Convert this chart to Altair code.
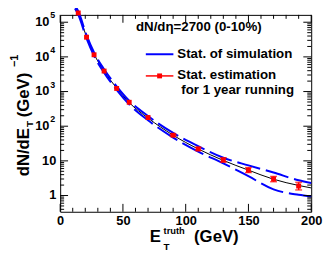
import altair as alt
import pandas as pd

# ---------------- data ----------------
pt_x = [14.4, 21, 27, 35, 45, 55, 70, 90, 110, 130, 150, 170, 190]
pt_y = [1.85e5, 3.7e4, 1.15e4, 3.9e3, 1.23e3, 490, 178, 55, 22, 10.5, 5.4, 3.0, 1.88]

err_x = [90, 110, 130, 150, 170, 190]
err_lo = [52, 20, 9.25, 4.6, 2.5, 1.45]
err_hi = [58, 24.5, 12.3, 6.4, 3.55, 2.4]

fit_x = [11.8, 14.4, 21, 27, 35, 45, 55, 70, 90, 110, 130, 150, 170, 190, 200]
fit_y = [2.8e5, 1.85e5, 3.8e4, 1.2e4, 3.9e3, 1.26e3, 480, 172, 55, 22, 10.3, 5.4, 2.95, 1.95, 1.66]
band_hi = [3.1e5, 2.07e5, 4.25e4, 1.34e4, 4.4e3, 1.42e3, 545, 196, 64, 26.5, 12.3, 7.4, 4.6, 2.75, 2.3]
band_lo = [2.5e5, 1.65e5, 3.4e4, 1.07e4, 3.5e3, 1.12e3, 425, 148, 47, 18.5, 8.5, 3.6, 1.5, 1.05, 0.94]

x_major = [0, 50, 100, 150, 200]
x_minor = [10, 20, 30, 40, 60, 70, 80, 90, 110, 120, 130, 140, 160, 170, 180, 190]
y_major = [1, 10, 100, 1e3, 1e4, 1e5]
y_minor = [m * 10 ** e for e in range(-1, 6) for m in range(2, 10) if 0.34 < m * 10 ** e < 1.63e5]
dec_exp_val = [1e5, 1e4, 1e3, 1e2]
dec_exp_txt = ["5", "4", "3", "2"]
dec_plain_val = [10, 1]
dec_plain_txt = ["10", "1"]

W, H = 255, 200
F = "Liberation Sans"
XD = [0, 200]
YD = [0.34, 1.63e5]

xs = alt.Scale(domain=XD, nice=False, zero=False)
ys = alt.Scale(type="log", domain=YD, nice=False)

x_axis = alt.Axis(values=x_major, ticks=False, domain=False, grid=False, title=None,
                  labelFont=F, labelFontWeight="bold", labelFontSize=13,
                  labelColor="black", labelPadding=3, labelFlush=False)


def X(field="x"):
    return alt.X(f"{field}:Q", scale=xs, axis=x_axis)


def Y(field="y"):
    return alt.Y(f"{field}:Q", scale=ys, axis=None)


one = pd.DataFrame({"a": [0]})


def txt(s, x, y, size, angle=0, align="left", baseline="alphabetic", color="black"):
    return alt.Chart(one).mark_text(
        text=s, fontSize=size, font=F, fontWeight="bold", align=align,
        baseline=baseline, angle=angle, color=color
    ).encode(x=alt.value(x), y=alt.value(y))


fit_df = pd.DataFrame({"x": fit_x, "y": fit_y, "hi": band_hi, "lo": band_lo})
pt_df = pd.DataFrame({"x": pt_x, "y": pt_y})
err_df = pd.DataFrame({"x": err_x, "lo": err_lo, "hi": err_hi})

band_hi_l = alt.Chart(fit_df).mark_line(color="#0000ff", strokeWidth=2, strokeDash=[24, 6],
                                         interpolate="monotone").encode(X(), Y("hi"))
band_lo_l = alt.Chart(fit_df).mark_line(color="#0000ff", strokeWidth=2, strokeDash=[24, 6],
                                         interpolate="monotone").encode(X(), Y("lo"))
fit_l = alt.Chart(fit_df).mark_line(color="black", strokeWidth=1,
                                     interpolate="monotone").encode(X(), Y("y"))
err_rule = alt.Chart(err_df).mark_rule(color="red", strokeWidth=1.5).encode(X(), Y("lo"), y2="hi:Q")
cap_lo = alt.Chart(err_df).mark_tick(color="red", orient="horizontal", size=7, thickness=1.5).encode(X(), Y("lo"))
cap_hi = alt.Chart(err_df).mark_tick(color="red", orient="horizontal", size=7, thickness=1.5).encode(X(), Y("hi"))
pts = alt.Chart(pt_df).mark_square(color="red", size=25, opacity=1).encode(X(), Y("y"))

# inside ticks (ROOT style)
xM = pd.DataFrame({"x": x_major})
xm = pd.DataFrame({"x": x_minor})
yM = pd.DataFrame({"y": y_major})
ym = pd.DataFrame({"y": y_minor})
tk = dict(color="black", strokeWidth=1)
ticks = [
    alt.Chart(xM).mark_rule(**tk).encode(X(), y=alt.value(H), y2=alt.value(H - 8)),
    alt.Chart(xm).mark_rule(**tk).encode(X(), y=alt.value(H), y2=alt.value(H - 4)),
    alt.Chart(xM).mark_rule(**tk).encode(X(), y=alt.value(0), y2=alt.value(8)),
    alt.Chart(xm).mark_rule(**tk).encode(X(), y=alt.value(0), y2=alt.value(4)),
    alt.Chart(yM).mark_rule(**tk).encode(Y(), x=alt.value(0), x2=alt.value(8)),
    alt.Chart(ym).mark_rule(**tk).encode(Y(), x=alt.value(0), x2=alt.value(4)),
    alt.Chart(yM).mark_rule(**tk).encode(Y(), x=alt.value(W), x2=alt.value(W - 8)),
    alt.Chart(ym).mark_rule(**tk).encode(Y(), x=alt.value(W), x2=alt.value(W - 4)),
]

# y tick labels with superscript exponents
ylab_df = pd.DataFrame({"y": dec_exp_val, "e": dec_exp_txt})
yplain_df = pd.DataFrame({"y": dec_plain_val, "t": dec_plain_txt})
ylab_base = alt.Chart(ylab_df).mark_text(text="10", font=F, fontWeight="bold", fontSize=13,
                                         align="right", baseline="middle", color="black").encode(
    Y(), x=alt.value(-11))
ylab_exp = alt.Chart(ylab_df).mark_text(font=F, fontWeight="bold", fontSize=9,
                                        align="left", baseline="middle", dy=-7, color="black").encode(
    Y(), x=alt.value(-10), text="e:N")
ylab_plain = alt.Chart(yplain_df).mark_text(font=F, fontWeight="bold", fontSize=13,
                                            align="right", baseline="middle", color="black").encode(
    Y(), x=alt.value(-4), text="t:N")

# axis titles built from pieces (sub/superscripts)
ytitle = [
    txt("dN/dE", -32, 164, 17, angle=270),
    txt("T", -28, 114, 10, angle=270),
    txt("(GeV)", -32, 104, 17, angle=270),
    txt("\u22121", -43, 53, 11, angle=270),
]
xtitle = [
    txt("E", 91, 231, 17),
    txt("truth", 105, 223, 9.5),
    txt("T", 105, 239, 10),
    txt("(GeV)", 136, 231, 17),
]

# legend
leg_one = alt.Chart(one)
legend = [
    txt("dN/d\u03b7=2700 (0-10%)", 77, 12, 13.5, baseline="middle"),
    leg_one.mark_rule(color="#0000ff", strokeWidth=2).encode(
        x=alt.value(87), x2=alt.value(115), y=alt.value(40)),
    txt("Stat. of simulation", 119, 40, 13.5, baseline="middle"),
    leg_one.mark_rule(color="red", strokeWidth=1.5).encode(
        x=alt.value(87), x2=alt.value(115), y=alt.value(62)),
    leg_one.mark_square(color="red", size=25, opacity=1).encode(
        x=alt.value(101), y=alt.value(62)),
    txt("Stat. estimation", 119, 61.5, 13.5, baseline="middle"),
    txt("for 1 year running", 123, 76, 13.5, baseline="middle"),
]

chart = alt.layer(
    fit_l, band_hi_l, band_lo_l, err_rule, cap_lo, cap_hi, pts,
    *ticks, ylab_base, ylab_exp, ylab_plain, *ytitle, *xtitle, *legend
).properties(
    width=W, height=H, autosize="none",
    padding={"left": 53, "top": 5, "right": 13, "bottom": 46},
    background="white",
).configure_view(stroke="black", strokeWidth=1)

chart.save("out.html", embed_options={"renderer": "svg", "actions": False})
